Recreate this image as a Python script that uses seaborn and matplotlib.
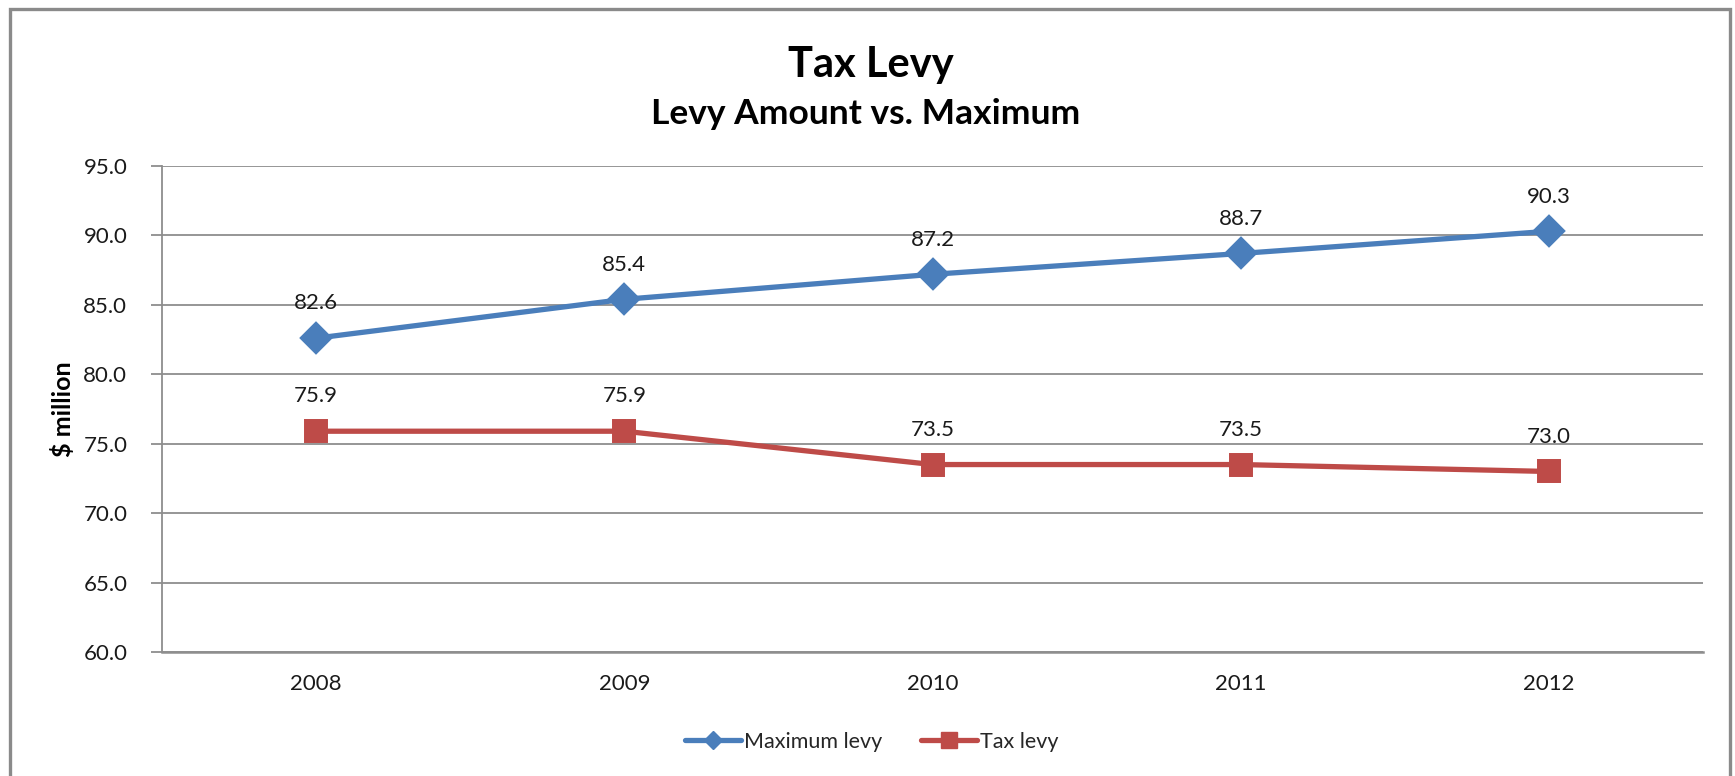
import matplotlib
matplotlib.use("Agg")
import matplotlib.pyplot as plt
from matplotlib.patches import Rectangle
from matplotlib.lines import Line2D
from matplotlib.ticker import FixedLocator, FormatStrFormatter
import seaborn as sns
import pandas as pd

years = ["2008", "2009", "2010", "2011", "2012"]
maximum_levy = [82.6, 85.4, 87.2, 88.7, 90.3]
tax_levy = [75.9, 75.9, 73.5, 73.5, 73.0]
series_names = ["Maximum levy", "Tax levy"]
y_ticks = [60.0, 65.0, 70.0, 75.0, 80.0, 85.0, 90.0, 95.0]

BLUE = "#4a7ebb"
RED = "#be4b48"
GRID = "#8e8e8e"
FONT = ["Lato", "DejaVu Sans"]

df = pd.DataFrame({
    "year": years * 2,
    "value": maximum_levy + tax_levy,
    "series": [series_names[0]] * len(years) + [series_names[1]] * len(years),
})

sns.set_theme(style="white")
plt.rcParams["font.family"] = FONT

fig = plt.figure(figsize=(17.35, 7.76), dpi=100)
ax = fig.add_axes([162 / 1735, 1 - 652 / 776, (1703 - 162) / 1735, (652 - 166) / 776])

sns.pointplot(data=df, x="year", y="value", hue="series", order=years,
              hue_order=series_names, palette=[BLUE, RED], markers=["D", "s"],
              linestyles=["-", "-"], errorbar=None, ax=ax,
              linewidth=3.8, markersize=14)
if ax.get_legend() is not None:
    ax.get_legend().remove()

# data labels
for vals in (maximum_levy, tax_levy):
    for i, v in enumerate(vals):
        ax.annotate(f"{v:.1f}", (i, v), xytext=(0, 25), textcoords="offset points",
                    ha="center", va="center", fontsize=16, color="#1a1a1a")

ax.set_xlim(-0.5, len(years) - 0.5)
ax.set_ylim(60, 95)
ax.yaxis.set_major_locator(FixedLocator(y_ticks))
ax.yaxis.set_major_formatter(FormatStrFormatter("%.1f"))
ax.grid(axis="y", color=GRID, linewidth=1.3)
ax.grid(axis="x", visible=False)
ax.set_axisbelow(True)

for s in ["top", "right"]:
    ax.spines[s].set_visible(False)
ax.spines["left"].set_color(GRID)
ax.spines["left"].set_linewidth(1.3)
ax.spines["bottom"].set_color(GRID)
ax.spines["bottom"].set_linewidth(1.8)

ax.set_xticks(range(len(years)))
ax.set_xticklabels(years)
ax.set_xticks([i - 0.5 for i in range(len(years) + 1)], minor=True)
ax.tick_params(axis="x", which="major", length=0, pad=16, labelsize=16, labelcolor="#1a1a1a")
ax.tick_params(axis="x", which="minor", length=8, width=1.3, color=GRID, direction="out")
ax.tick_params(axis="y", which="major", length=8, width=1.3, color=GRID, pad=17,
               labelsize=16, labelcolor="#1a1a1a", left=True)

ax.set_xlabel("")
ax.set_ylabel("$ million", fontsize=18, fontweight="bold", color="black", labelpad=6)

fig.text(871 / 1735, 1 - 65 / 776, "Tax Levy", ha="center", va="center",
         fontsize=30, fontweight="bold", color="black")
fig.text(866 / 1735, 1 - 114 / 776, "Levy Amount vs. Maximum", ha="center", va="center",
         fontsize=25.5, fontweight="bold", color="black")

handles = [
    Line2D([], [], color=BLUE, lw=3.8, marker="D", markersize=9),
    Line2D([], [], color=RED, lw=3.8, marker="s", markersize=11),
]
fig.legend(handles, series_names, loc="center", bbox_to_anchor=(872 / 1735, 1 - 742 / 776),
           ncol=2, frameon=False, fontsize=15.5, handlelength=2.6, handletextpad=0.15,
           columnspacing=1.8)

fig.patches.append(Rectangle((10 / 1735, -0.05), (1730 - 10) / 1735, 1.05 - 9.5 / 776,
                             transform=fig.transFigure, fill=False, edgecolor="#8a8a8a",
                             linewidth=2.4))

fig.savefig("out.png", dpi=100, facecolor="white")
